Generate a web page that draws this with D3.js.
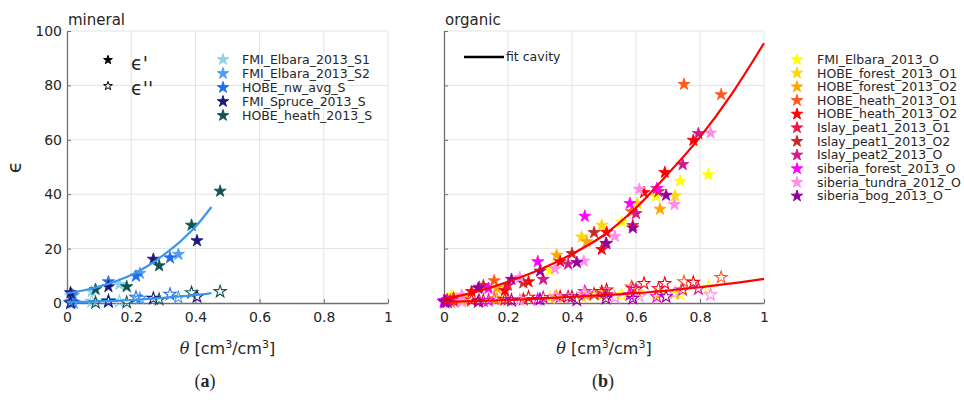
<!DOCTYPE html>
<html>
<head>
<meta charset="utf-8">
<script src="https://cdn.jsdelivr.net/npm/d3@7"></script>
<style>
  body { margin: 0; background: #fff; }
  svg text { font-family: "DejaVu Sans", sans-serif; fill: #262626; }
</style>
</head>
<body>
<div id="chart"></div>
<script>
// tick values
var xTicks = [0, 0.2, 0.4, 0.6, 0.8, 1];
var yTicks = [0, 20, 40, 60, 80, 100];

// mineral soils: [theta, eps', eps'']
var FMI_Elbara_2013_S1 = [[0.011, 2.6, 0.3], [0.077, 4.2, 0.6], [0.163, 6.8, 0.6]];
var FMI_Elbara_2013_S2 = [[0.02, 2.8, 0.2], [0.227, 10.9, 1.7], [0.347, 17.9, 2.0]];
var HOBE_nw_avg_S = [[0.015, 3.2, 0.4], [0.129, 7.8, 0.8], [0.215, 9.9, 2.1], [0.321, 16.6, 3.2]];
var FMI_Spruce_2013_S = [[0.011, 3.8, 0.0], [0.129, 6.0, 0.5], [0.269, 16.1, 1.7], [0.405, 22.9, 2.3]];
var HOBE_heath_2013_S = [[0.089, 5.0, 0.1], [0.186, 6.0, 0.2], [0.287, 13.7, 1.3], [0.388, 28.6, 3.8], [0.477, 41.1, 4.2]];

// organic soils: [theta, eps', eps'']
var FMI_Elbara_2013_O = [[0.024, 2.9, 2.3], [0.331, 12.0, 2.0], [0.555, 29.8, 3.0], [0.662, 39.2, 3.3], [0.738, 44.8, 3.2], [0.826, 47.2, 5.8]];
var HOBE_forest_2013_O1 = [[0.06, 2.0, 1.0], [0.43, 24.3, 2.4], [0.493, 28.6, 3.0], [0.604, 36.6, 4.0], [0.722, 39.4, 3.8]];
var HOBE_forest_2013_O2 = [[0.03, 1.5, 0.8], [0.165, 5.5, 1.5], [0.352, 17.6, 2.3], [0.446, 22.5, 3.0], [0.675, 34.5, 3.6]];
var HOBE_heath_2013_O1 = [[0.02, 1.2, 0.5], [0.157, 8.2, 1.5], [0.586, 33.6, 5.9], [0.75, 80.4, 7.8], [0.866, 76.6, 9.4]];
var HOBE_heath_2013_O2 = [[0.01, 0.8, 0.4], [0.086, 4.2, 1.1], [0.19, 4.6, 1.3], [0.264, 7.8, 2.1], [0.363, 15.2, 2.3], [0.493, 19.7, 4.2], [0.508, 26.0, 4.8], [0.625, 40.6, 7.2], [0.69, 48.0, 7.2], [0.779, 59.8, 7.6]];
var Islay_peat1_2013_O1 = [[0.03, 1.8, 0.8], [0.2, 6.5, 1.2], [0.59, 28.5, 5.3], [0.67, 41.0, 5.3]];
var Islay_peat1_2013_O2 = [[0.123, 6.4, 0.9], [0.248, 7.4, 1.3], [0.40, 18.2, 2.3], [0.469, 25.9, 3.3]];
var Islay_peat2_2013_O = [[0.01, 1.2, 0.5], [0.11, 5.8, 0.9], [0.31, 8.7, 2.0], [0.388, 14.3, 2.3], [0.508, 21.9, 3.0], [0.6, 32.9, 5.0], [0.746, 50.9, 4.8], [0.795, 62.3, 5.2]];
var siberia_forest_2013_O = [[0.0, 0.9, 0.5], [0.139, 5.4, 1.0], [0.293, 15.2, 1.3], [0.44, 31.9, 4.2], [0.581, 36.6, 3.0], [0.665, 42.1, 2.3]];
var siberia_tundra_2012_O = [[0.055, 2.9, 0.5], [0.237, 9.4, 1.1], [0.347, 12.6, 2.3], [0.437, 15.4, 3.3], [0.534, 24.5, 2.1], [0.61, 41.8, 2.5], [0.72, 36.2, 3.5], [0.833, 62.5, 3.0]];
var siberia_bog_2013_O = [[0.003, 0.7, 0.3], [0.107, 5.4, 0.5], [0.211, 8.7, 1.0], [0.30, 11.7, 1.3], [0.415, 14.9, 1.1], [0.506, 21.9, 1.7], [0.59, 27.6, 1.7], [0.694, 39.6, 2.3]];

// fit curves
var fitMineralTheta = [0, 0.05, 0.1, 0.15, 0.2, 0.25, 0.3, 0.35, 0.4, 0.45];
var fitMineralReal = [3.6, 4.6, 6.0, 7.9, 10.3, 13.5, 17.6, 22.3, 28.0, 35.3];
var fitMineralImag = [0.3, 0.4, 0.6, 0.8, 1.1, 1.5, 1.9, 2.4, 2.9, 3.6];
var fitOrganicTheta = [0, 0.1, 0.2, 0.3, 0.4, 0.5, 0.6, 0.7, 0.8, 0.9, 1.0];
var fitOrganicReal = [1.5, 4.1, 7.8, 12.3, 18.0, 25.0, 35.0, 47.5, 61.0, 77.0, 95.5];
var fitOrganicImag = [0.4, 0.7, 1.1, 1.6, 2.3, 2.9, 3.6, 4.6, 5.8, 7.2, 8.9];

var mineralNames = ["FMI_Elbara_2013_S1", "FMI_Elbara_2013_S2", "HOBE_nw_avg_S", "FMI_Spruce_2013_S", "HOBE_heath_2013_S"];
var mineralData = [FMI_Elbara_2013_S1, FMI_Elbara_2013_S2, HOBE_nw_avg_S, FMI_Spruce_2013_S, HOBE_heath_2013_S];
var mineralColors = ["#8cd2ea", "#4d9ef0", "#1f6cea", "#1a1a78", "#0e5653"];

var organicNames = ["FMI_Elbara_2013_O", "HOBE_forest_2013_O1", "HOBE_forest_2013_O2", "HOBE_heath_2013_O1", "HOBE_heath_2013_O2",
  "Islay_peat1_2013_O1", "Islay_peat1_2013_O2", "Islay_peat2_2013_O", "siberia_forest_2013_O", "siberia_tundra_2012_O", "siberia_bog_2013_O"];
var organicData = [FMI_Elbara_2013_O, HOBE_forest_2013_O1, HOBE_forest_2013_O2, HOBE_heath_2013_O1, HOBE_heath_2013_O2,
  Islay_peat1_2013_O1, Islay_peat1_2013_O2, Islay_peat2_2013_O, siberia_forest_2013_O, siberia_tundra_2012_O, siberia_bog_2013_O];
var organicColors = ["#ffff00", "#ffd700", "#ffa500", "#ff5a1e", "#ff0000", "#f0184b", "#c82828", "#d2188c", "#ff00ff", "#ff8ce8", "#96009a"];

var svg = d3.select("#chart").append("svg").attr("width", 964).attr("height", 400);

var y = d3.scaleLinear().domain([0, 100]).range([303, 31]);
var star = d3.symbol().type(d3.symbolStar).size(46);
var starLegend = d3.symbol().type(d3.symbolStar).size(40);
var starSmall = d3.symbol().type(d3.symbolStar).size(24);

function drawPanel(x, title, data, colors, fitTheta, fitReal, fitImag, fitColor, yLabels) {
  var g = svg.append("g");

  // grid
  g.selectAll(".gx").data(xTicks.slice(1)).enter().append("line")
    .attr("x1", (d) => x(d)).attr("x2", (d) => x(d))
    .attr("y1", y(0)).attr("y2", y(100))
    .attr("stroke", "#e3e3e3").attr("stroke-width", 1);
  g.selectAll(".gy").data(yTicks.slice(1)).enter().append("line")
    .attr("x1", x(0)).attr("x2", x(1))
    .attr("y1", (d) => y(d)).attr("y2", (d) => y(d))
    .attr("stroke", "#e3e3e3").attr("stroke-width", 1);

  // axes
  var xAxis = g.append("g")
    .attr("transform", "translate(0," + y(0) + ")")
    .call(d3.axisBottom(x).tickValues(xTicks).tickSizeInner(-4).tickSizeOuter(0).tickPadding(9)
      .tickFormat((d) => d3.format("")(d)));
  var yAxis = g.append("g")
    .attr("transform", "translate(" + x(0) + ",0)")
    .call(d3.axisLeft(y).tickValues(yTicks).tickSizeInner(-4).tickSizeOuter(0).tickPadding(5)
      .tickFormat(yLabels ? d3.format("d") : () => ""));
  [xAxis, yAxis].forEach(function (a) {
    a.select(".domain").attr("stroke", "#707070").attr("stroke-width", 1.3);
    a.selectAll(".tick line").attr("stroke", "#707070");
    a.selectAll("text").style("font-size", "14px").style("font-family", "DejaVu Sans, sans-serif").attr("fill", "#333");
  });

  // markers: filled = eps', open = eps''
  data.forEach(function (series, i) {
    g.selectAll(null).data(series).enter().append("path")
      .attr("d", star)
      .attr("transform", (d) => "translate(" + x(d[0]) + "," + y(d[2]) + ")")
      .attr("fill", "none")
      .attr("stroke", colors[i])
      .attr("stroke-width", 1.1);
    g.selectAll(null).data(series).enter().append("path")
      .attr("d", star)
      .attr("transform", (d) => "translate(" + x(d[0]) + "," + y(d[1]) + ")")
      .attr("fill", colors[i])
      .attr("stroke", colors[i])
      .attr("stroke-width", 0.8);
  });

  // fits
  var line = d3.line().curve(d3.curveMonotoneX)
    .x((d, i) => x(fitTheta[i])).y((d) => y(d));
  [fitReal, fitImag].forEach(function (f) {
    g.append("path").attr("d", line(f))
      .attr("fill", "none").attr("stroke", fitColor).attr("stroke-width", 2.2);
  });

  g.append("text").attr("x", x(0) + 1).attr("y", 25)
    .style("font-size", "15px").text(title);

  var xl = g.append("text").attr("x", x(0.5)).attr("y", 354)
    .attr("text-anchor", "middle").style("font-size", "16px");
  xl.append("tspan").style("font-style", "italic").style("font-family", "DejaVu Serif, serif").text("θ");
  xl.append("tspan").text(" [cm");
  xl.append("tspan").attr("dy", -6).style("font-size", "11px").text("3");
  xl.append("tspan").attr("dy", 6).text("/cm");
  xl.append("tspan").attr("dy", -6).style("font-size", "11px").text("3");
  xl.append("tspan").attr("dy", 6).text("]");
  return g;
}

var xL = d3.scaleLinear().domain([0, 1]).range([67, 388]);
var xR = d3.scaleLinear().domain([0, 1]).range([444, 764]);

drawPanel(xL, "mineral", mineralData, mineralColors, fitMineralTheta, fitMineralReal, fitMineralImag, "#3d96ee", true);
drawPanel(xR, "organic", organicData, organicColors, fitOrganicTheta, fitOrganicReal, fitOrganicImag, "#ff0000", false);

// y label
svg.append("text")
  .attr("transform", "translate(21," + y(50) + ") rotate(-90)")
  .attr("text-anchor", "middle")
  .style("font-size", "20px")
  .text("ϵ");

// eps' / eps'' key
svg.append("path").attr("d", starSmall).attr("transform", "translate(108,60)").attr("fill", "#000").attr("stroke", "#000");
svg.append("path").attr("d", starSmall).attr("transform", "translate(108,86)").attr("fill", "none").attr("stroke", "#000");
svg.append("text").attr("x", 131).attr("y", 70).style("font-size", "19px").text("ϵ'");
svg.append("text").attr("x", 131).attr("y", 95).style("font-size", "19px").text("ϵ''");

// mineral legend
var legL = svg.selectAll(".legL").data(mineralNames).enter().append("g")
  .attr("transform", (d, i) => "translate(223," + (59.5 + i * 14) + ")");
legL.append("path").attr("d", starLegend).attr("fill", (d, i) => mineralColors[i]).attr("stroke", (d, i) => mineralColors[i]);
legL.append("text").attr("x", 19).attr("dy", "0.35em").style("font-size", "12.5px").text((d) => d);

// organic legend
var legR = svg.selectAll(".legR").data(organicNames).enter().append("g")
  .attr("transform", (d, i) => "translate(797," + (59.5 + i * 13.65) + ")");
legR.append("path").attr("d", starLegend).attr("fill", (d, i) => organicColors[i]).attr("stroke", (d, i) => organicColors[i]);
legR.append("text").attr("x", 20).attr("dy", "0.35em").style("font-size", "12.5px").text((d) => d);

// fit cavity key
svg.append("line").attr("x1", 464).attr("x2", 504).attr("y1", 57).attr("y2", 57)
  .attr("stroke", "#000").attr("stroke-width", 2.5);
svg.append("text").attr("x", 506).attr("y", 57).attr("dy", "0.35em").style("font-size", "12.5px").text("fit cavity");

// panel captions
[["a", 205], ["b", 603]].forEach(function (c) {
  var t = svg.append("text").attr("x", c[1]).attr("y", 387).attr("text-anchor", "middle")
    .style("font-family", "Liberation Serif, serif").style("font-size", "18px");
  t.append("tspan").text("(");
  t.append("tspan").style("font-weight", "bold").text(c[0]);
  t.append("tspan").text(")");
});
</script>
</body>
</html>
